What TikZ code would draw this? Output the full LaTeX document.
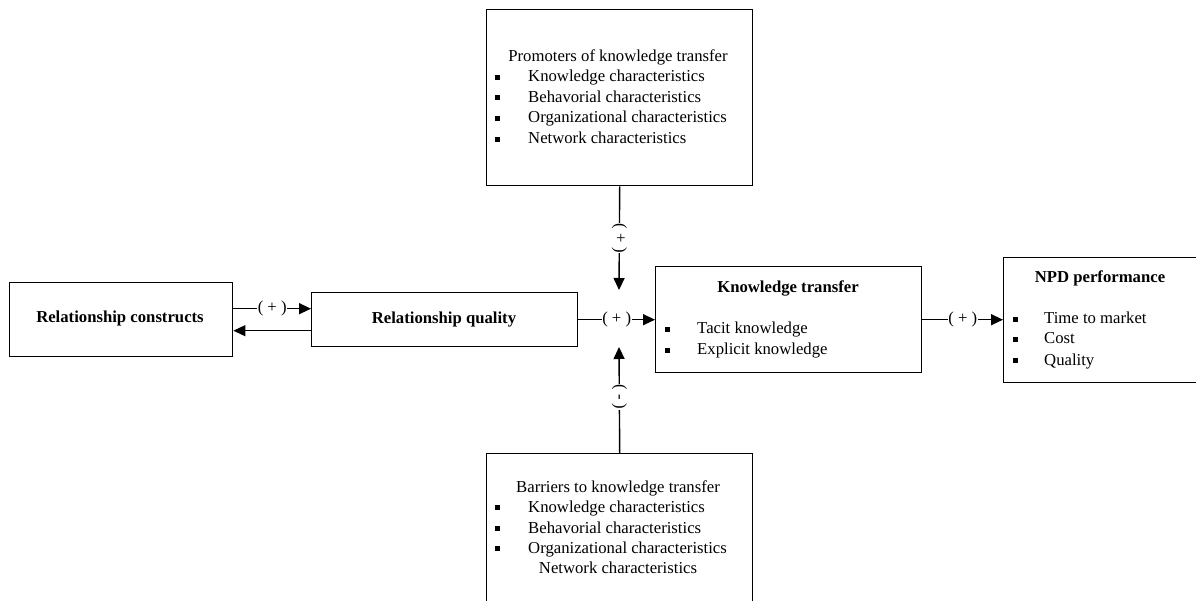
\documentclass[tikz,border=0pt]{standalone}
\usepackage{fontspec}
\setmainfont{Liberation Serif}
\usetikzlibrary{arrows.meta}
\begin{document}
\begin{tikzpicture}[x=1pt,y=-1pt,
  font=\fontsize{16.7}{20}\selectfont,
  box/.style={draw, line width=1.4pt, inner sep=0pt, anchor=north west},
  arr/.style={line width=1.4pt, -{Triangle[length=12pt,width=11pt]}},
  lab/.style={fill=white, inner sep=0.5pt, font=\fontsize{16.7}{20}\selectfont},
  txt/.style={inner sep=0pt, anchor=base west},
  ttl/.style={inner sep=0pt, anchor=base},
  bttl/.style={inner sep=0pt, anchor=base, font=\fontsize{16.7}{20}\selectfont\bfseries},
  blt/.style={fill=black, inner sep=0pt, minimum size=5pt, draw=none}]
\useasboundingbox (0,0) rectangle (1196,601);
\clip (0,0) rectangle (1196,601);

% boxes
\node[box, minimum width=266pt, minimum height=176pt] (prom) at (486,9) {};
\node[box, minimum width=266pt, minimum height=180pt] (barr) at (486,453) {};
\node[box, minimum width=223pt, minimum height=74pt] (rc) at (9,282) {};
\node[box, minimum width=266pt, minimum height=54pt] (rq) at (311,292) {};
\node[box, minimum width=266pt, minimum height=106pt] (kt) at (655,266) {};
\node[box, minimum width=215pt, minimum height=125pt] (npd) at (1003,257) {};

% texts: promoters
\node[ttl] (pt) at (618,62) {Promoters of knowledge transfer};
\node[txt] (p1) at (528,82) {Knowledge characteristics};
\node[txt] (p2) at (528,102.5) {Behavorial characteristics};
\node[txt] (p3) at (528,123) {Organizational characteristics};
\node[txt] (p4) at (528,144) {Network characteristics};
\node[blt] (pb1) at (497,77.5) {};
\node[blt] (pb2) at (497,98) {};
\node[blt] (pb3) at (497,118.5) {};
\node[blt] (pb4) at (497,139.5) {};

% barriers
\node[ttl] (bt) at (618,492) {Barriers to knowledge transfer};
\node[txt] (bl1) at (528,512) {Knowledge characteristics};
\node[txt] (bl2) at (528,533) {Behavorial characteristics};
\node[txt] (bl3) at (528,553) {Organizational characteristics};
\node[ttl] (bl4) at (618,573) {Network characteristics};
\node[blt] (bb1) at (497,507.5) {};
\node[blt] (bb2) at (497,528.5) {};
\node[blt] (bb3) at (497,548.5) {};

% relationship boxes
\node[bttl] (rct) at (120,323) {Relationship constructs};
\node[bttl] (rqt) at (444,324) {Relationship quality};

% knowledge transfer
\node[bttl] (ktt) at (788,293) {Knowledge transfer};
\node[txt] (k1) at (697,334) {Tacit knowledge};
\node[txt] (k2) at (697,355) {Explicit knowledge};
\node[blt] (kb1) at (667,329.5) {};
\node[blt] (kb2) at (667,350.5) {};

% NPD
\node[bttl] (nt) at (1100,283) {NPD performance};
\node[txt] (n1) at (1044,324) {Time to market};
\node[txt] (n2) at (1044,344) {Cost};
\node[txt] (n3) at (1044,365) {Quality};
\node[blt] (nb1) at (1015,319.5) {};
\node[blt] (nb2) at (1015,340) {};
\node[blt] (nb3) at (1015,360.5) {};

% connectors
\coordinate (ptop) at (619,290);
\coordinate (pbot) at (619,347);
\draw[arr] ([yshift=11pt]rc.east) -- node[lab] (l1) {( + )} ([yshift=11pt]rc.east -| rq.west);
\draw[arr] ([yshift=-11pt]rq.west) -- ([yshift=-11pt]rq.west -| rc.east);
\draw[arr] (rq.east) -- node[lab] (l2) {( + )} (kt.west);
\draw[arr] (kt.east) -- node[lab] (l3) {( + )} (kt.east -| npd.west);
\draw[arr] (prom.south) -- node[lab, rotate=-90, pos=0.5] (l4) {( + )} (ptop);
\draw[arr] (barr.north) -- node[lab, rotate=-90, pos=0.53] (l5) {( - )} (pbot);
\end{tikzpicture}
\end{document}
